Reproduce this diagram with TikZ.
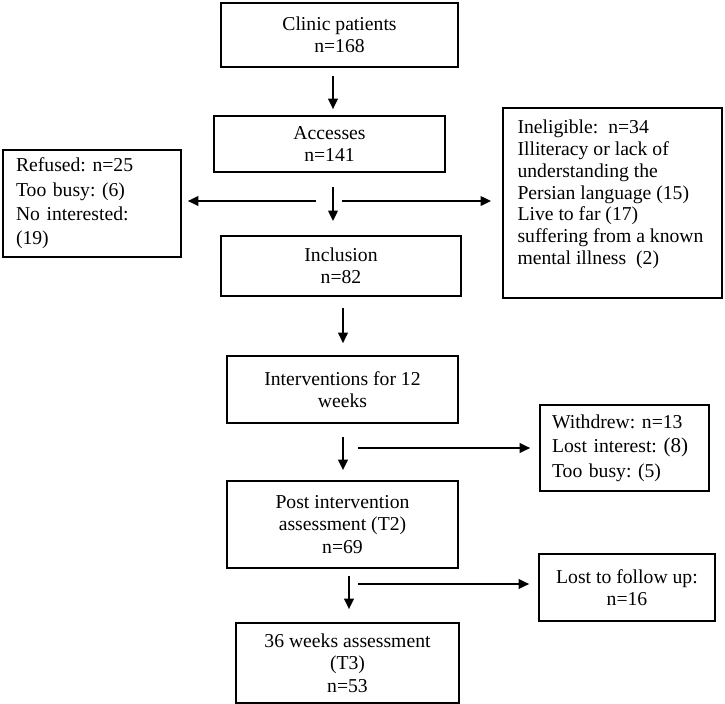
\documentclass[tikz,border=0pt]{standalone}
\usepackage{fontspec}
\setmainfont{Liberation Serif}
\usetikzlibrary{arrows.meta}
\frenchspacing

\tikzset{
  box/.style={draw,line width=1pt,align=center,inner sep=2pt,
    font=\fontsize{11.2}{12.8}\selectfont},
  sidebox/.style={draw,line width=1pt,align=left,inner ysep=2pt,
    font=\fontsize{11.2}{13.9}\selectfont},
  arr/.style={line width=1pt,-{Triangle[length=6pt,width=5.5pt]}}
}

\begin{document}
\begin{tikzpicture}[x=0.02cm,y=-0.02cm]
  \useasboundingbox (0,0) rectangle (725,704);

  \node[box,minimum width=4.74cm,minimum height=1.28cm] (clinic) at (339.5,35)
    {Clinic patients\\n=168};
  \node[box,minimum width=4.62cm,minimum height=1.12cm] (accesses) at (329.5,144)
    {Accesses\\n=141};
  \node[box,minimum width=4.8cm,minimum height=1.2cm] (inclusion) at (341,266)
    {Inclusion\\n=82};
  \node[box,minimum width=4.62cm,minimum height=1.34cm] (interv) at (342.5,389.5)
    {Interventions for 12\\weeks};
  \node[box,minimum width=4.62cm,minimum height=1.74cm] (post) at (342.5,524.5)
    {Post intervention\\assessment (T2)\\n=69};
  \node[box,minimum width=4.46cm,minimum height=1.6cm] (final) at (347.5,663)
    {36 weeks assessment\\(T3)\\n=53};

  \node[sidebox,text width=3.04cm,inner xsep=0.26cm,minimum height=2.14cm]
    (refused) at (92,203.5)
    {Refused: n=25\\Too busy: (6)\\No interested:\\(19)};
  \node[draw,line width=1pt,inner xsep=0.29cm,inner ysep=0.24cm,
        font=\fontsize{11.2}{12.4}\selectfont] (inelig) at (612.5,203)
    {\parbox[c][3.32cm][t]{3.8cm}{\raggedright
      Ineligible:\ \ n=34\\Illiteracy or lack of\\understanding the\\
      Persian language (15)\\Live to far (17)\\suffering from a known\\
      mental illness\ \ (2)}};
  \node[sidebox,text width=2.9cm,inner xsep=0.24cm,minimum height=1.72cm]
    (withdrew) at (624.5,448)
    {Withdrew: n=13\\Lost interest: {\large(8)}\\Too busy: (5)};
  \node[box,minimum width=3.52cm,minimum height=1.34cm] (lost) at (627,587.5)
    {Lost to follow up:\\n=16};

  \coordinate (s1) at (333,201);
  \coordinate (s2) at (343,448);
  \coordinate (s3) at (349,584);

  \draw[arr,shorten <=4.5pt,shorten >=3.4pt] (clinic.south -| s1) -- (accesses.north -| s1);
  \draw[arr,shorten <=8pt,shorten >=8pt] (accesses.south -| s1) -- (inclusion.north -| s1);
  \draw[arr,shorten <=9.7pt,shorten >=3.4pt] (s1) -- (refused.east |- s1);
  \draw[arr,shorten <=5.1pt,shorten >=6.3pt] (s1) -- (inelig.west |- s1);
  \draw[arr,shorten <=6.3pt,shorten >=6.8pt] (inclusion.south -| s2) -- (interv.north -| s2);
  \draw[arr,shorten <=7.4pt,shorten >=5.7pt] (interv.south -| s2) -- (post.north -| s2);
  \draw[arr,shorten <=8.5pt,shorten >=5.1pt] (s2) -- (withdrew.west |- s2);
  \draw[arr,shorten <=4pt,shorten >=7.4pt] (post.south -| s3) -- (final.north -| s3);
  \draw[arr,shorten <=5.1pt,shorten >=5.1pt] (s3) -- (lost.west |- s3);
\end{tikzpicture}
\end{document}
